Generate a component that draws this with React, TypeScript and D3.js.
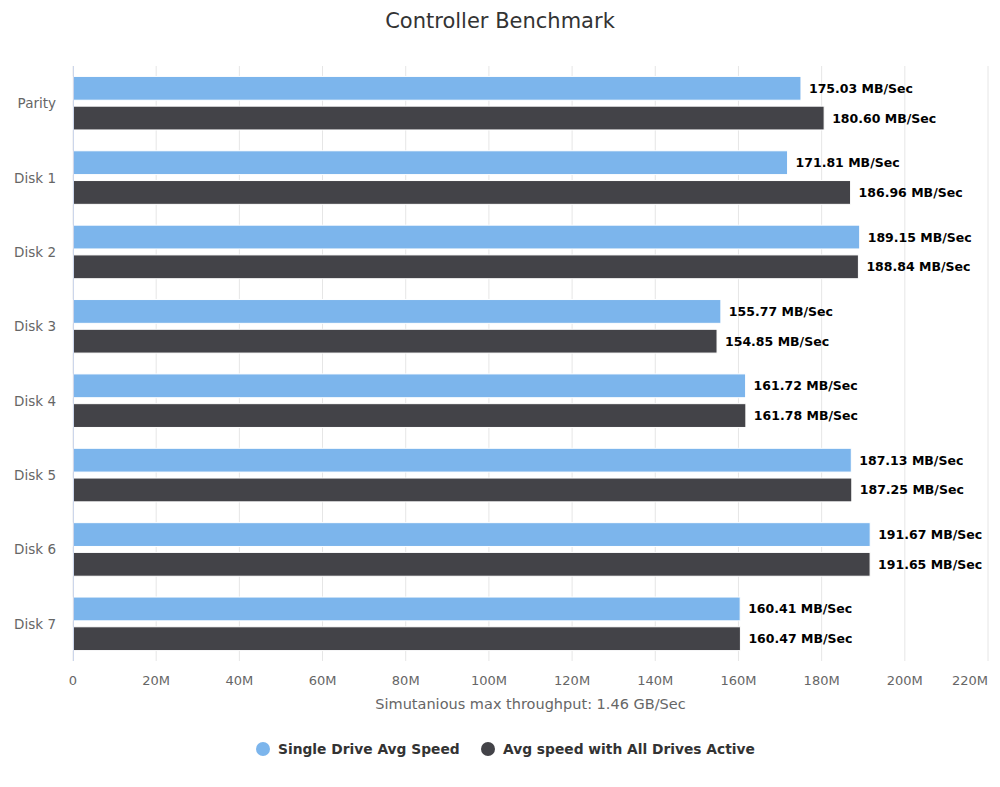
import React from 'react'
import * as d3 from 'd3'

const categories = ['Parity', 'Disk 1', 'Disk 2', 'Disk 3', 'Disk 4', 'Disk 5', 'Disk 6', 'Disk 7']
const singleDrive = [175.03, 171.81, 189.15, 155.77, 161.72, 187.13, 191.67, 160.41]
const allDrives = [180.6, 186.96, 188.84, 154.85, 161.78, 187.25, 191.65, 160.47]
const seriesNames = ['Single Drive Avg Speed', 'Avg speed with All Drives Active']
const colors = ['#7cb5ec', '#434348']
const ticks = [0, 20, 40, 60, 80, 100, 120, 140, 160, 180, 200, 220]

const font = '"DejaVu Sans", Verdana, sans-serif'

const App = () => {
  var width = 1000
  var height = 787
  var left = 73
  var right = 988
  var top = 66
  var bottom = 661

  const x = d3.scaleLinear().domain([0, 220]).range([left, right])
  const yBand = d3.scaleBand().domain(categories).range([top, bottom])
  var cw = yBand.step()
  var groupPad = cw * 0.1
  var slot = (cw - 2 * groupPad) / 2
  var barH = slot * 0.8

  const series = [singleDrive, allDrives]

  const grid = ticks.map((t, i) => {
    var last = i === ticks.length - 1
    return (
      <g key={i}>
        <line x1={x(t)} x2={x(t)} y1={top} y2={bottom} stroke="#e6e6e6" />
        <text x={last ? x(t) : x(t)} y={685} textAnchor={last ? 'end' : 'middle'} fill="#666" fontSize={13}>
          {t === 0 ? '0' : t + 'M'}
        </text>
      </g>
    )
  })

  const bars = categories.map((c, ci) => (
    <g key={c}>
      {series.map((s, si) => {
        var y0 = yBand(c)! + groupPad + si * slot + slot * 0.1
        return (
          <g key={si}>
            <rect x={x(0)} y={y0} width={x(s[ci]) - x(0)} height={barH} fill={colors[si]} stroke="#fff" strokeWidth={1} />
            <text x={x(s[ci]) + 8} y={y0 + barH / 2 + 4.5} fill="#000" fontSize={12.5} fontWeight="bold">
              {s[ci].toFixed(2)} MB/Sec
            </text>
          </g>
        )
      })}
      <text x={56} y={yBand(c)! + cw / 2 + 5} textAnchor="end" fill="#666" fontSize={13.5}>
        {c}
      </text>
    </g>
  ))

  const legendX = [263, 488]

  return (
    <svg width={width} height={height} style={{position: 'absolute', left: 0, top: 0, fontFamily: font}}>
      <rect width={width} height={height} fill="#fff" />
      <text x={500} y={28} textAnchor="middle" fill="#333" fontSize={21}>Controller Benchmark</text>
      <g>{grid}</g>
      <g>{bars}</g>
      <line x1={left + 0.5} x2={left + 0.5} y1={top} y2={bottom} stroke="#ccd6eb" />
      <text x={(left + right) / 2} y={709} textAnchor="middle" fill="#666" fontSize={14.5}>
        Simutanious max throughput: 1.46 GB/Sec
      </text>
      {seriesNames.map((n, i) => (
        <g key={n}>
          <circle cx={legendX[i]} cy={749} r={7} fill={colors[i]} />
          <text x={legendX[i] + 15} y={754} fill="#333" fontSize={13.8} fontWeight="bold">{n}</text>
        </g>
      ))}
    </svg>
  )
}

export default App
